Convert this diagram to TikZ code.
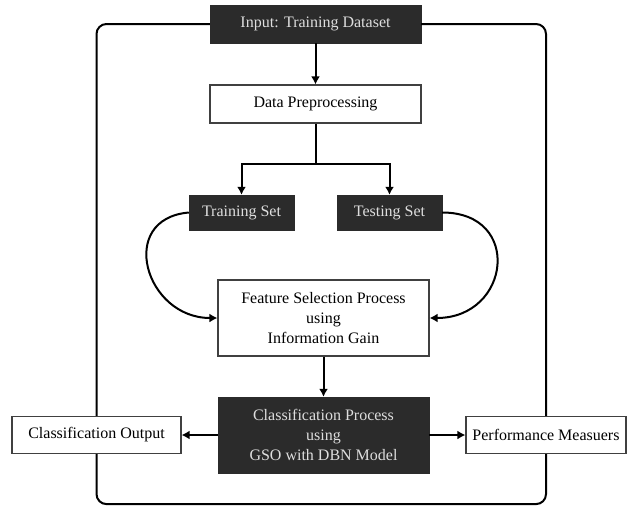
\documentclass[tikz,border=0pt]{standalone}
\usepackage{fontspec}
\setmainfont{Liberation Serif}
\definecolor{boxdark}{rgb}{0.17,0.17,0.17}
\definecolor{boxtext}{rgb}{0.87,0.87,0.87}
\usetikzlibrary{arrows.meta}

\begin{document}
\begin{tikzpicture}[x=1pt,y=-1pt,font=\fontsize{16}{20}\selectfont,
    darkbox/.style={fill=boxdark,draw=boxdark,text=boxtext,align=center,inner sep=0pt},
    lightbox/.style={fill=white,draw=black!75,line width=1.2pt,align=center,inner sep=0pt},
    arr/.style={-{Latex[length=8pt,width=9pt]},line width=2pt},
    backline/.style={line width=2pt,rounded corners=10pt}]
  \useasboundingbox (0,0) rectangle (628,506);
  % main column
  \node[darkbox,minimum width=211,minimum height=38] (input) at (315.5,24) {Input: Training Dataset};
  \node[lightbox,minimum width=211,minimum height=38] (prep) at (315.5,104) {Data Preprocessing};
  \node[darkbox,minimum width=105,minimum height=35] (train) at (241.5,212.5) {Training Set};
  \node[darkbox,minimum width=105,minimum height=35] (test) at (389.5,212.5) {Testing Set};
  \node[lightbox,minimum width=211,minimum height=76] (feat) at (323.5,318) {Feature Selection Process\\using\\Information Gain};
  \node[darkbox,minimum width=211,minimum height=76] (cls) at (323.5,435) {Classification Process\\using\\GSO with DBN Model};
  % side outputs
  \node[lightbox,minimum width=169,minimum height=37] (outp) at (96.5,435) {Classification Output};
  \node[lightbox,minimum width=160,minimum height=37] (perf) at (546,435) {Performance Measuers};
  \coordinate (split) at (315.5,164);

  \draw[arr] (input) -- (prep);
  \draw[line width=2pt] (prep) -- (split);
  \draw[arr] (split) -| (train);
  \draw[arr] (split) -| (test);
  \draw[arr] (train.west) to[out=185,in=180,looseness=1.7] (feat.west);
  \draw[arr] (test.east) to[out=0,in=0,looseness=1.95] (feat.east);
  \draw[arr] (feat) -- (cls);
  \draw[arr] (cls) -- (outp);
  \draw[arr] (cls) -- (perf);
  % outer loop
  \draw[backline] (input.west) -| (outp.north);
  \draw[backline] (input.east) -| (perf.north);
  \draw[backline] (outp.south) -- ++(0,50) -| (perf.south);
\end{tikzpicture}
\end{document}
